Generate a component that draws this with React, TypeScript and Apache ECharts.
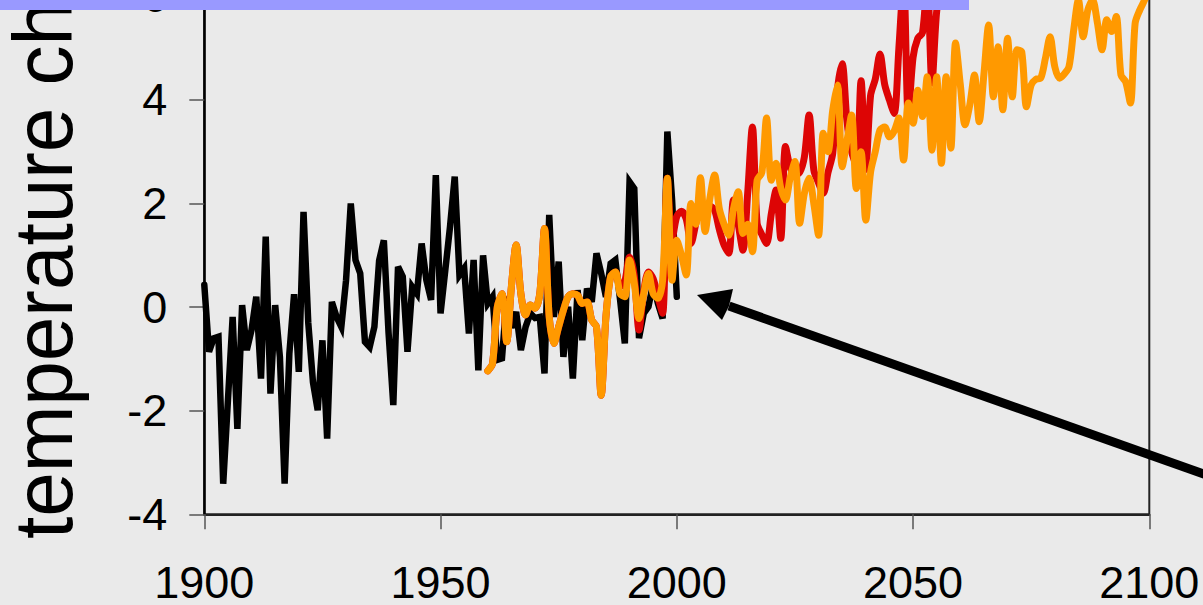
import React, { useEffect, useRef } from "react";
import * as echarts from "echarts";

// ---- data ----
const blackStartYear = 1900;
const blackValues = [
  0.43, -0.86, -0.6, -0.57, -3.41, -1.8, -0.19, -2.35, 0.04, -0.83,
  -0.44, 0.2, -1.38, 1.36, -1.67, 0.04, -0.96, -3.41, -0.9, 0.25,
  -1.25, 1.84, -0.3, -1.45, -1.99, -0.64, -2.54, 0.1, -0.19, -0.38,
  0.52, 2.0, 0.91, 0.65, -0.67, -0.77, -0.38, 0.9, 1.29, -0.5,
  -1.89, 0.78, 0.59, -0.86, 0.39, 0.26, 1.23, 0.52, 0.14, 2.55,
  -0.12, 0.71, 1.55, 2.52, 0.62, 0.75, -0.51, 0.91, -1.22, 1.0,
  0.07, 0.2, -1.02, -0.99, 0.2, -0.4, -0.09, -0.83, -0.38, -0.12,
  -0.21, -0.19, -1.28, 1.78, -0.19, 0.88, -0.96, 0.01, -1.38, 0.33,
  -0.64, 0.36, 0.1, 1.04, 0.65, 0.2, 0.84, 0.91, 0.14, -0.7,
  2.42, 2.29, -0.6, -0.12, 0.01, 0.46, 0.07, -0.22, 3.39, 2.07,
  0.2,
];

const scenarioStartYear = 1960;
const redValues = [
  -1.23, -1.09, 0.0, 0.26, -0.67, 0.4, 1.2, 0.26, -0.15, 0.04,
  -0.02, 0.26, 1.52, -0.19, -0.7, -0.38, -0.06, 0.2, 0.26, 0.23,
  0.07, 0.1, -0.25, -0.38, -1.7, -0.19, 0.59, 0.68, 0.4, 0.5,
  0.97, 0.6, -0.44, 0.3, 0.68, 0.55, 0.2, -0.12, 2.49, 1.3,
  1.75, 1.85, 1.7, 1.23, 1.6, 1.97, 1.9, 1.95, 1.87, 1.5,
  1.2, 1.04, 2.07, 1.6, 1.1, 2.2, 3.48, 1.62, 1.4, 1.23,
  1.8, 2.26, 1.33, 3.1, 2.7, 2.55, 2.6, 2.9, 3.71, 2.65,
  2.4, 2.2, 2.6, 2.97, 4.2, 4.7, 3.6, 3.0, 2.74, 4.37,
  2.66, 4.08, 4.4, 4.89, 4.3, 4.0, 3.74, 5.0, 6.3, 3.7,
  4.82, 5.19, 5.3, 6.3, 4.33, 5.71, 6.2, 6.5, 6.6, 6.8,
  7.0,
];
const orangeValues = [
  -1.23, -1.09, 0.0, 0.26, -0.67, 0.4, 1.2, 0.26, -0.15, 0.04,
  -0.02, 0.26, 1.52, -0.19, -0.7, -0.38, -0.06, 0.2, 0.26, 0.23,
  0.07, 0.1, -0.25, -0.38, -1.7, -0.19, 0.59, 0.68, 0.26, 0.2,
  0.91, 0.46, -0.22, 0.26, 0.65, 0.26, 0.17, 0.52, 2.49, 0.52,
  1.29, 1.0, 0.62, 2.0, 1.6, 2.5, 1.46, 2.1, 2.55, 1.9,
  1.6, 1.39, 1.9, 2.23, 1.42, 1.6, 1.07, 2.45, 2.6, 3.65,
  2.45, 2.78, 2.3, 2.07, 2.5, 2.81, 1.62, 2.2, 2.49, 2.0,
  1.39, 3.36, 3.0, 3.8, 4.29, 2.71, 3.2, 3.71, 2.29, 3.0,
  1.68, 2.6, 3.0, 3.42, 3.48, 3.29, 3.4, 3.65, 2.84, 3.94,
  3.55, 4.19, 3.68, 4.45, 3.03, 4.45, 2.78, 4.45, 3.07, 5.1,
  4.3, 3.52, 3.9, 4.48, 3.58, 4.5, 5.45, 4.06, 5.03, 3.81,
  5.19, 4.06, 4.97, 4.93, 3.87, 4.29, 4.4, 4.42, 4.8, 5.22,
  4.64, 4.42, 4.5, 4.64, 5.35, 5.93, 5.22, 5.74, 5.93, 5.5,
  4.97, 5.55, 5.32, 5.61, 4.48, 4.35, 3.94, 5.48, 5.74, 5.93,
  6.2,
];

const xMin = 1900;
const xMax = 2100;
const xInterval = 50;
const yMin = -4;
const yMax = 6;
const yInterval = 2;
const yTitle = "temperature change (°C)";

const toPairs = (start: number, values: number[]) =>
  values.map((v, i) => [start + i, v]);

const FONT = "'Liberation Sans', Arial, Helvetica, sans-serif";
const OFFSET = 100; // chart div is shifted up by this many pixels

export default function App() {
  const ref = useRef<HTMLDivElement>(null);

  useEffect(() => {
    if (!ref.current) return;
    const chart = echarts.init(ref.current, undefined, { renderer: "svg" });
    const option: any = {
      animation: false,
      backgroundColor: "#eaeaea",
      grid: {
        left: 204.3,
        right: 53.7,
        top: 96.4,
        bottom: 90.7,
        show: true,
        borderColor: "#222",
        borderWidth: 2,
        backgroundColor: "transparent",
        containLabel: false,
        outerBoundsMode: "none",
      },
      xAxis: {
        type: "value",
        min: xMin,
        max: xMax,
        interval: xInterval,
        axisLine: { show: true, onZero: false, lineStyle: { color: "#222", width: 2 } },
        axisTick: { show: true, inside: false, length: 15, lineStyle: { color: "#555", width: 1.5 } },
        axisLabel: {
          fontSize: 45,
          color: "#000",
          margin: 46,
          fontFamily: FONT,
          formatter: (v: number) => String(v),
        },
        splitLine: { show: false },
      },
      yAxis: {
        type: "value",
        min: yMin,
        max: yMax,
        interval: yInterval,
        axisLine: { show: true, onZero: false, lineStyle: { color: "#000", width: 2.5 } },
        axisTick: { show: true, inside: false, length: 15, lineStyle: { color: "#555", width: 1.5 } },
        axisLabel: {
          fontSize: 45,
          color: "#000",
          margin: 37,
          fontFamily: FONT,
          formatter: (v: number) => String(v),
        },
        splitLine: { show: false },
      },
      series: [
        {
          type: "line",
          name: "observed",
          data: toPairs(blackStartYear, blackValues),
          showSymbol: false,
          symbol: "none",
          lineStyle: { color: "#000000", width: 6.5, join: "miter", cap: "round" },
          z: 2,
        },
        {
          type: "line",
          name: "scenario A",
          data: toPairs(scenarioStartYear, redValues),
          showSymbol: false,
          symbol: "none",
          smooth: 0.3,
          lineStyle: { color: "#dd0505", width: 7, join: "round", cap: "round" },
          z: 3,
        },
        {
          type: "line",
          name: "scenario B",
          data: toPairs(scenarioStartYear, orangeValues),
          showSymbol: false,
          symbol: "none",
          smooth: 0.3,
          lineStyle: { color: "#ff9900", width: 7, join: "round", cap: "round" },
          z: 4,
        },
      ],
      graphic: [
        {
          type: "text",
          x: 43,
          y: 539 + OFFSET,
          rotation: Math.PI / 2,
          scaleY: 1.04,
          z: 20,
          style: {
            text: yTitle,
            fontSize: 80,
            fontFamily: FONT,
            fill: "#000",
            align: "left",
            verticalAlign: "middle",
          },
        },
        {
          type: "line",
          z: 50,
          shape: { x1: 729, y1: 306 + OFFSET, x2: 1215, y2: 478 + OFFSET },
          style: { stroke: "#000", lineWidth: 9 },
        },
        {
          type: "polygon",
          z: 51,
          shape: {
            points: [
              [697, 295 + OFFSET],
              [733, 289 + OFFSET],
              [729, 306 + OFFSET],
              [722, 320 + OFFSET],
            ],
          },
          style: { fill: "#000" },
        },
        {
          type: "rect",
          z: 100,
          shape: { x: 0, y: OFFSET, width: 969, height: 10 },
          style: { fill: "#9999ff" },
        },
      ],
    };
    chart.setOption(option);
    return () => chart.dispose();
  }, []);

  return (
    <div
      style={{
        position: "fixed",
        left: 0,
        top: 0,
        width: 1203,
        height: 605,
        overflow: "hidden",
        background: "#eaeaea",
      }}
    >
      <div
        ref={ref}
        style={{ position: "absolute", left: 0, top: -OFFSET, width: 1203, height: 605 + OFFSET }}
      />
    </div>
  );
}
